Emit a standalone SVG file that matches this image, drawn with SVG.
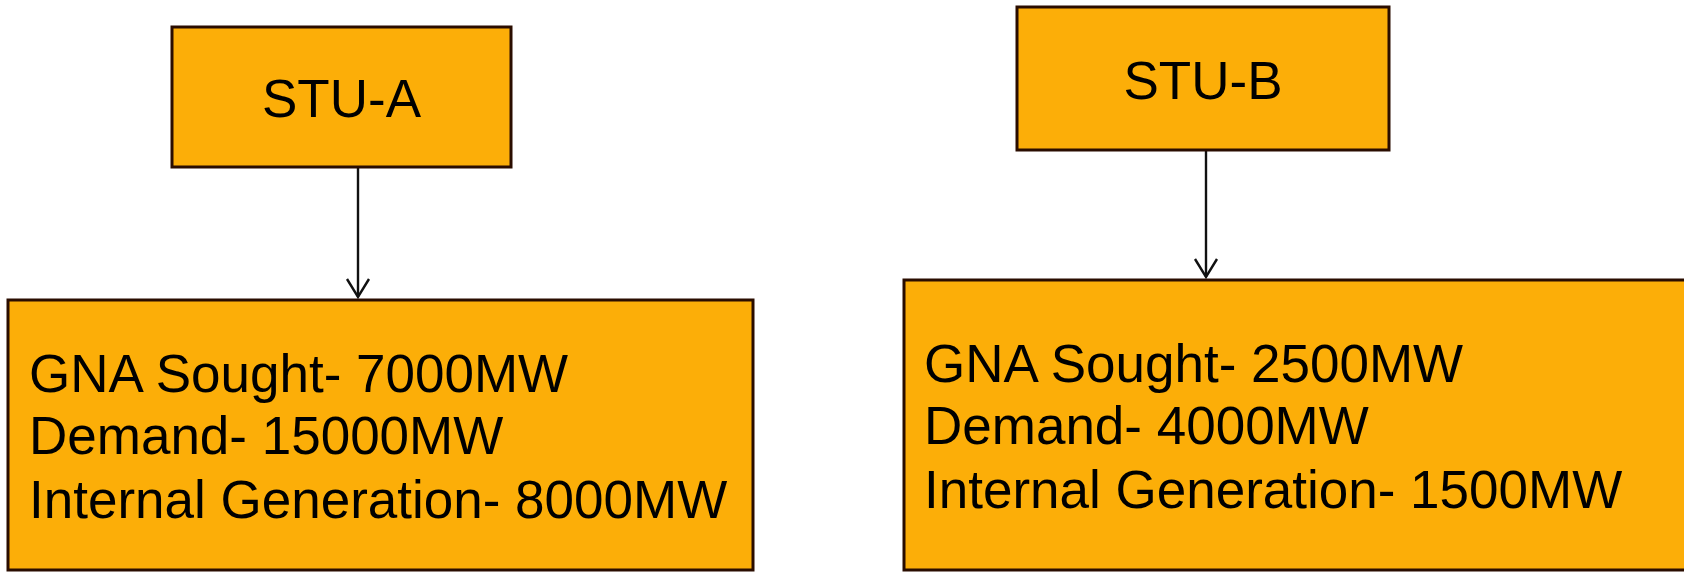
<svg xmlns="http://www.w3.org/2000/svg" width="1684" height="572" viewBox="0 0 1684 572">
<style>
.box{fill:#FCAE08;stroke:#2a0d00;stroke-width:3}
.t{font-family:"Liberation Sans",Arial,sans-serif;font-size:53px;fill:#000}
.c{text-anchor:middle}
.ln{stroke:#111;stroke-width:2.4;fill:none}
</style>
<rect width="1684" height="572" fill="#fff"/>
<g id="connectors">
<line class="ln" x1="358" y1="167" x2="358" y2="297"/>
<polyline class="ln" points="347,279 358,297 369,279"/>
<line class="ln" x1="1206" y1="150" x2="1206" y2="277"/>
<polyline class="ln" points="1195,259 1206,277 1217,259"/>
</g>
<g id="stu-a">
<rect class="box" x="172" y="27" width="339" height="140"/>
<text class="t c" x="341.5" y="117">STU-A</text>
</g>
<g id="stu-b">
<rect class="box" x="1017" y="7" width="372" height="143"/>
<text class="t c" x="1203" y="99">STU-B</text>
</g>
<g id="detail-a">
<rect class="box" x="8" y="300" width="745" height="270"/>
<text class="t" x="29" y="392">GNA Sought- 7000MW</text>
<text class="t" x="29" y="454">Demand- 15000MW</text>
<text class="t" x="29" y="518">Internal Generation- 8000MW</text>
</g>
<g id="detail-b">
<rect class="box" x="904" y="280" width="790" height="290"/>
<text class="t" x="924" y="382">GNA Sought- 2500MW</text>
<text class="t" x="924" y="444">Demand- 4000MW</text>
<text class="t" x="924" y="508">Internal Generation- 1500MW</text>
</g>
</svg>
